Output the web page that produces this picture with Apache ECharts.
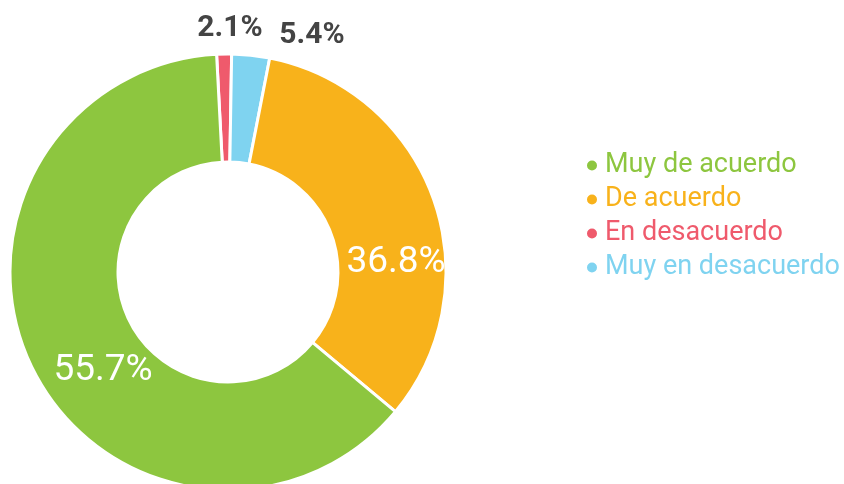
<!DOCTYPE html>
<html>
<head>
<meta charset="utf-8">
<script src="https://cdn.jsdelivr.net/npm/echarts@6/dist/echarts.min.js"></script>
<style>
  html, body { margin: 0; padding: 0; background: #fff; }
  #chart { width: 844px; height: 484px; }
</style>
</head>
<body>
<div id="chart"></div>
<script>
// legend order
var categories = ['Muy de acuerdo', 'De acuerdo', 'En desacuerdo', 'Muy en desacuerdo'];
var sliceValues = [63.1, 33.0, 1.1, 2.8];
// text printed on the slices
var percentLabels = ['55.7%', '36.8%', '2.1%', '5.4%'];
var colors = ['#8dc63f', '#f8b21b', '#ef5a6c', '#7fd3f0'];
// clockwise order of slices starting at the top
var drawOrder = [2, 3, 1, 0];

var font = 'Roboto, "Liberation Sans", Arial, sans-serif';

// label offsets (px) from the pie centre
var labelShift = {
	'Muy de acuerdo': [-125, 99],
	'De acuerdo': [168, -9],
	'En desacuerdo': [2, -244],
	'Muy en desacuerdo': [84, -237]
};

var pieData = drawOrder.map(function (i) {
	var outside = i >= 2;
	return {
		name: categories[i],
		value: sliceValues[i],
		itemStyle: { color: colors[i] },
		label: outside ? {
			fontSize: 30,
			fontWeight: 'bold',
			color: '#444444'
		} : {
			fontSize: 37,
			fontWeight: 'normal',
			color: '#ffffff'
		}
	};
});

var chart = echarts.init(document.getElementById('chart'));

var option = {
	animation: false,
	backgroundColor: '#ffffff',
	legend: {
		orient: 'vertical',
		left: 585,
		top: 152,
		padding: 0,
		itemGap: 7,
		itemWidth: 16,
		itemHeight: 12,
		icon: 'circle',
		selectedMode: false,
		textStyle: {
			fontFamily: font,
			fontSize: 27,
			lineHeight: 27
		},
		data: categories.map(function (c, i) {
			return { name: c, textStyle: { color: colors[i] } };
		})
	},
	series: [{
		type: 'pie',
		center: [228, 272],
		radius: [110, 218],
		startAngle: 93,
		clockwise: true,
		avoidLabelOverlap: false,
		itemStyle: {
			borderColor: '#ffffff',
			borderWidth: 3
		},
		label: {
			show: true,
			position: 'center',
			fontFamily: font,
			formatter: function (p) {
				return percentLabels[categories.indexOf(p.name)];
			}
		},
		labelLine: { show: false },
		labelLayout: function (params) {
			var name = pieData[params.dataIndex].name;
			var s = labelShift[name];
			return { dx: s[0], dy: s[1] };
		},
		emphasis: { disabled: true },
		data: pieData
	}]
};

chart.setOption(option);
</script>
</body>
</html>
